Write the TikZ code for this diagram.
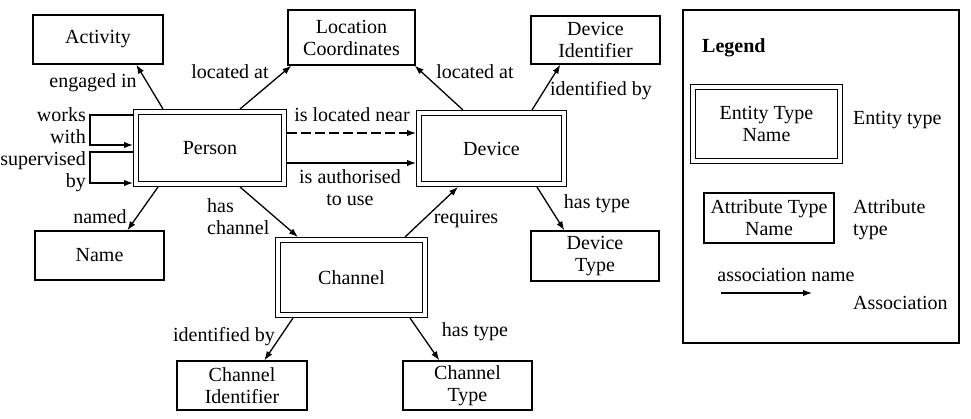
\documentclass[tikz,border=0pt]{standalone}
\usepackage{fontspec}
\setmainfont{Liberation Serif}
\usetikzlibrary{calc,arrows.meta}
\begin{document}
\begin{tikzpicture}[x=1pt,y=-1pt,
  txt/.style={font=\fontsize{20}{22}\selectfont, inner sep=0pt, align=center},
  attr/.style={txt, draw, line width=1.3pt},
  entity/.style={txt, draw, line width=1.4pt, double, double distance=3.4pt, outer sep=3.1pt},
  lbl/.style={txt},
  assoc/.style={line width=1.3pt, -{Latex[length=9pt,width=6.5pt]}},
]
\useasboundingbox (0,0) rectangle (971,418);
% attribute types
\node[attr, minimum width=130pt, minimum height=49pt] (activity) at (98,39.5) {Activity};
\node[attr, minimum width=127pt, minimum height=55pt] (loc) at (351.5,37.5) {Location\\Coordinates};
\node[attr, minimum width=129pt, minimum height=48pt] (devid) at (595.5,40) {Device\\Identifier};
\node[attr, minimum width=129pt, minimum height=49pt] (name) at (99.5,255.5) {Name};
\node[attr, minimum width=128pt, minimum height=50pt] (devtype) at (595,256) {Device\\Type};
\node[attr, minimum width=130pt, minimum height=49pt] (chid) at (242,385.5) {Channel\\Identifier};
\node[attr, minimum width=129pt, minimum height=49pt] (chtype) at (467.5,385.5) {Channel\\Type};
% entity types
\node[entity, minimum width=147.8pt, minimum height=71.8pt] (person) at (210,148) {Person};
\node[entity, minimum width=144.8pt, minimum height=70.8pt] (device) at (491.5,148.5) {Device};
\node[entity, minimum width=146.8pt, minimum height=74.8pt] (channel) at (351.5,277.5) {Channel};
% associations
\draw[assoc] ($(person.north west)+(30,0)$) -- ($(activity.south west)+(104,0)$);
\draw[assoc] ($(person.north west)+(107,0)$) -- ($(loc.south west)+(4,0)$);
\draw[assoc] ($(person.north west)+(0,6)$) -- ++(-43,0) |- ($(person.north west)+(0,36)$);
\draw[assoc] ($(person.north west)+(0,43)$) -- ++(-43,0) |- ($(person.north west)+(0,74)$);
\draw[assoc, dash pattern=on 10pt off 4pt] ($(person.north east)+(0,24)$) -- ($(device.north west)+(0,23)$);
\draw[assoc] ($(person.north east)+(0,54)$) -- ($(device.north west)+(0,53)$);
\draw[assoc] ($(person.south west)+(25,0)$) -- ($(name.north west)+(93,0)$);
\draw[assoc] ($(person.south west)+(107,0)$) -- ($(channel.north west)+(23,0)$);
\draw[assoc] ($(channel.north west)+(130,0)$) -- ($(device.south west)+(42,0)$);
\draw[assoc] ($(device.north west)+(47,0)$) -- ($(loc.south east)+(-1,0)$);
\draw[assoc] ($(device.north west)+(116,0)$) -- ($(devid.south west)+(30,0)$);
\draw[assoc] ($(device.south west)+(121,0)$) -- ($(devtype.north west)+(34,0)$);
\draw[assoc] ($(channel.south west)+(18,0)$) -- ($(chid.north west)+(88,0)$);
\draw[assoc] ($(channel.south west)+(135,0)$) -- ($(chtype.north west)+(37,0)$);
% labels
\node[lbl] (l1) at (93,83) {engaged in};
\node[lbl] (l2) at (230,72) {located at};
\node[lbl, align=right, anchor=east] (l3) at (86,126) {works\\with};
\node[lbl, align=right, anchor=east] (l4) at (86,172) {supervised\\by};
\node[lbl] (l5) at (352,115) {is located near};
\node[lbl] (l6) at (350,188) {is authorised\\to use};
\node[lbl] (l7) at (100,217) {named};
\node[lbl, align=left, anchor=west] (l8) at (207,217) {has\\channel};
\node[lbl] (l9) at (466,219) {requires};
\node[lbl] (l10) at (475,72) {located at};
\node[lbl] (l11) at (601,91) {identified by};
\node[lbl] (l12) at (597,204) {has type};
\node[lbl] (l13) at (224,337) {identified by};
\node[lbl] (l14) at (475,332) {has type};
% legend
\node[draw, line width=1.3pt, minimum width=276pt, minimum height=333pt, inner sep=0pt] (legend) at (821,176.5) {};
\node[lbl, anchor=west, font=\fontsize{20}{22}\selectfont\bfseries] (lt) at (702,48) {Legend};
\node[entity, minimum width=146.8pt, minimum height=73.8pt] (lent) at (766.5,124) {Entity Type\\Name};
\node[attr, minimum width=130pt, minimum height=50pt] (lattr) at (769,218) {Attribute Type\\Name};
\node[lbl, anchor=west] (lentt) at (853,120) {Entity type};
\node[lbl, anchor=west, align=left] (lattrt) at (853,220) {Attribute\\type};
\node[lbl] (lan) at (786,275) {association name};
\coordinate (la1) at (721,293);
\coordinate (la2) at (812,293);
\draw[assoc] (la1) -- (la2);
\node[lbl, anchor=west] (lass) at (853,303) {Association};
\end{tikzpicture}
\end{document}
